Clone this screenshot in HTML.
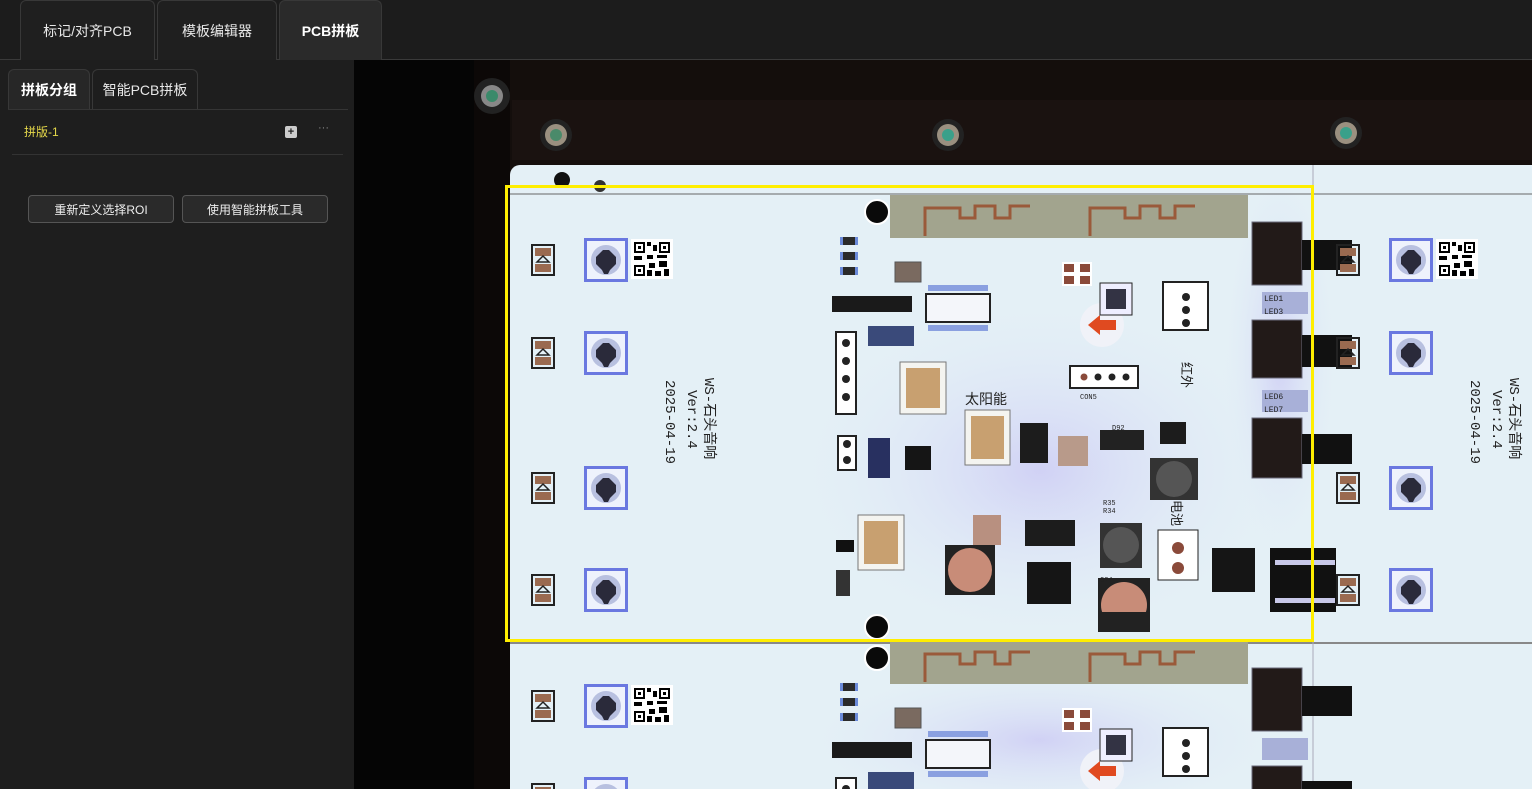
<!DOCTYPE html>
<html style="overflow:hidden"><head><meta charset="utf-8"><style>
*{margin:0;padding:0;box-sizing:border-box}
html,body{width:1532px;height:789px;overflow:hidden}
body{background:#1c1c1c;font-family:"Liberation Sans","Noto Sans CJK SC",sans-serif;position:relative}
.tab{position:absolute;top:0;height:60px;border:1px solid #383838;border-bottom:none;border-radius:6px 6px 0 0;color:#e8e8e8;font-size:14px;display:flex;align-items:center;justify-content:center;background:#1f1f1f}
.st{position:absolute;top:69px;height:41px;border:1px solid #383838;border-bottom:none;border-radius:6px 6px 0 0;color:#e8e8e8;font-size:14px;display:flex;align-items:center;justify-content:center}
.btn{position:absolute;top:195px;height:28px;border:1px solid #555;border-radius:4px;background:#2a2a2a;color:#eee;font-size:12px;display:flex;align-items:center;justify-content:center}
</style></head><body>
<div style="position:absolute;left:0;top:59px;width:1532px;height:1px;background:#3a3a3a"></div>
<div class="tab" style="left:20px;width:135px">标记/对齐PCB</div>
<div class="tab" style="left:157px;width:120px">模板编辑器</div>
<div class="tab" style="left:279px;width:103px;background:#2a2a2a;font-weight:bold;color:#fff">PCB拼板</div>
<div style="position:absolute;left:0;top:60px;width:354px;height:729px;background:#1e1e1e"></div>
<div class="st" style="left:8px;width:82px;background:#272727;font-weight:bold;color:#fff">拼板分组</div>
<div class="st" style="left:92px;width:106px">智能PCB拼板</div>
<div style="position:absolute;left:8px;top:109px;width:340px;height:1px;background:#353535"></div>
<div style="position:absolute;left:24px;top:123px;color:#e5d84a;font-size:12px">拼版-1</div>
<div style="position:absolute;left:285px;top:126px;width:12px;height:12px;background:#ccc;border-radius:2px;color:#222;font-size:11px;line-height:12px;text-align:center;font-weight:bold">+</div>
<div style="position:absolute;left:318px;top:122px;color:#888;font-size:11px">···</div>
<div style="position:absolute;left:12px;top:154px;width:331px;height:1px;background:#333"></div>
<div class="btn" style="left:28px;width:146px">重新定义选择ROI</div>
<div class="btn" style="left:182px;width:146px">使用智能拼板工具</div>
<div style="position:absolute;left:354px;top:60px;width:120px;height:729px;background:#050505"></div>
<svg style="position:absolute;left:0;top:0;display:block" width="1532" height="789" viewBox="0 0 1532 789">
<defs>
<radialGradient id="glow" cx="0.5" cy="0.5" r="0.5"><stop offset="0" stop-color="#c8c4f4" stop-opacity="0.7"/><stop offset="1" stop-color="#e4f0f8" stop-opacity="0"/></radialGradient>
<g id="led"><rect x="-22" y="-22" width="44" height="44" fill="#6a78e0"/><rect x="-19" y="-19" width="38" height="38" fill="#eef2fc"/><circle r="15" fill="#b8c0e0"/><path d="M-10 -3 L-3 -10 L3 -10 L10 -3 L10 4 L4 10 L2 14 L-2 14 L-4 10 L-10 4Z" fill="#2a2a3a"/></g>
<g id="ledl"><rect x="-11" y="-15" width="22" height="30" fill="none" stroke="#222" stroke-width="2"/><rect x="-8" y="-12" width="16" height="8" fill="#9a6a50"/><rect x="-8" y="4" width="16" height="8" fill="#9a6a50"/><path d="M-6 2 L0 -4 L6 2Z" fill="none" stroke="#222" stroke-width="1.5"/></g>
<g id="qr"><rect width="42" height="40" fill="#fff"/><rect x="3" y="3" width="11" height="11" fill="#000"/><rect x="5" y="5" width="7" height="7" fill="#fff"/><rect x="7" y="7" width="3" height="3" fill="#000"/><rect x="28" y="3" width="11" height="11" fill="#000"/><rect x="30" y="5" width="7" height="7" fill="#fff"/><rect x="32" y="7" width="3" height="3" fill="#000"/><rect x="3" y="26" width="11" height="11" fill="#000"/><rect x="5" y="28" width="7" height="7" fill="#fff"/><rect x="7" y="30" width="3" height="3" fill="#000"/><path d="M16 3h4v4h-4zM22 6h4v6h-4zM16 16h6v4h-6zM26 16h10v3h-10zM3 17h8v4h-8zM18 24h6v5h-6zM28 22h8v6h-8zM16 31h5v6h-5zM24 32h6v5h-6zM33 30h5v7h-5z" fill="#000"/></g>
<g id="res"><rect x="-8" y="-4" width="16" height="8" fill="#2a2a2a"/><rect x="-9" y="-4" width="3" height="8" fill="#6b8ad8"/><rect x="6" y="-4" width="3" height="8" fill="#6b8ad8"/></g>
<g id="panel">
<use href="#led" x="606" y="260"/><use href="#led" x="606" y="353"/><use href="#led" x="606" y="488"/><use href="#led" x="606" y="590"/>
<use href="#ledl" x="543" y="260"/><use href="#ledl" x="543" y="353"/><use href="#ledl" x="543" y="488"/><use href="#ledl" x="543" y="590"/>
<use href="#qr" x="631" y="239"/>
<rect x="890" y="195" width="358" height="43" fill="#a2a48e"/>
<path d="M925 236 V208 H960 V218 H975 V206 H995 V218 H1010 V206 H1030 M1090 236 V208 H1125 V218 H1140 V206 H1160 V218 H1175 V206 H1195" fill="none" stroke="#9a5a3a" stroke-width="3"/>
<circle cx="877" cy="212" r="12" fill="#0a0a0a" stroke="#fff" stroke-width="2"/>
<circle cx="877" cy="627" r="12" fill="#0a0a0a" stroke="#fff" stroke-width="2"/>
<g fill="#333"><use href="#res" x="849" y="241"/><use href="#res" x="849" y="256"/><use href="#res" x="849" y="271"/></g>
<rect x="832" y="296" width="80" height="16" fill="#1a1a1a"/>
<rect x="868" y="326" width="46" height="20" fill="#3a4a7a"/>
<rect x="895" y="262" width="26" height="20" fill="#7a6a60" stroke="#555"/>
<rect x="926" y="294" width="64" height="28" fill="#f4f6fa" stroke="#222" stroke-width="2"/>
<rect x="928" y="285" width="60" height="6" fill="#8aa0e0"/><rect x="928" y="325" width="60" height="6" fill="#8aa0e0"/>
<rect x="836" y="332" width="20" height="82" fill="#fff" stroke="#222" stroke-width="2"/>
<circle cx="846" cy="343" r="4" fill="#222"/><circle cx="846" cy="361" r="4" fill="#222"/><circle cx="846" cy="379" r="4" fill="#222"/><circle cx="846" cy="397" r="4" fill="#222"/>
<rect x="838" y="436" width="18" height="34" fill="#fff" stroke="#222" stroke-width="2"/><circle cx="847" cy="444" r="4" fill="#222"/><circle cx="847" cy="460" r="4" fill="#222"/>
<rect x="900" y="362" width="46" height="52" fill="#f4f4f0" stroke="#777"/><rect x="906" y="368" width="34" height="40" fill="#c8a070"/>
<rect x="965" y="410" width="45" height="55" fill="#f4f4f0" stroke="#777"/><rect x="971" y="416" width="33" height="43" fill="#c8a070"/>
<rect x="858" y="515" width="46" height="55" fill="#f4f4f0" stroke="#777"/><rect x="864" y="521" width="34" height="43" fill="#c8a070"/>
<rect x="1163" y="282" width="45" height="48" fill="#fff" stroke="#222" stroke-width="2"/><circle cx="1186" cy="297" r="4" fill="#222"/><circle cx="1186" cy="310" r="4" fill="#222"/><circle cx="1186" cy="323" r="4" fill="#222"/>
<circle cx="1102" cy="325" r="22" fill="#f0f2f8"/><path d="M1088 325 L1100 315 V320 H1116 V330 H1100 V335Z" fill="#e04a20"/>
<rect x="1100" y="283" width="32" height="32" fill="#eef" stroke="#222"/><rect x="1106" y="289" width="20" height="20" fill="#334"/>
<rect x="1062" y="262" width="30" height="24" fill="#fff"/><rect x="1064" y="264" width="10" height="8" fill="#8a4a3a"/><rect x="1080" y="264" width="10" height="8" fill="#8a4a3a"/><rect x="1064" y="276" width="10" height="8" fill="#8a4a3a"/><rect x="1080" y="276" width="10" height="8" fill="#8a4a3a"/>
<rect x="1070" y="366" width="68" height="22" fill="#fff" stroke="#222" stroke-width="2"/><circle cx="1084" cy="377" r="3.5" fill="#8a4a3a"/><circle cx="1098" cy="377" r="3.5" fill="#222"/><circle cx="1112" cy="377" r="3.5" fill="#222"/><circle cx="1126" cy="377" r="3.5" fill="#222"/>
<rect x="1020" y="423" width="28" height="40" fill="#1c1c1c"/>
<rect x="1100" y="430" width="44" height="20" fill="#222"/>
<rect x="1160" y="422" width="26" height="22" fill="#1c1c1c"/>
<rect x="1150" y="458" width="48" height="42" fill="#333"/><circle cx="1174" cy="479" r="18" fill="#555"/>
<rect x="1100" y="523" width="42" height="45" fill="#333"/><circle cx="1121" cy="545" r="18" fill="#555"/>
<rect x="1025" y="520" width="50" height="26" fill="#1c1c1c"/>
<rect x="1027" y="562" width="44" height="42" fill="#151515"/>
<rect x="1212" y="548" width="43" height="44" fill="#151515"/>
<rect x="945" y="545" width="50" height="50" fill="#222"/><circle cx="970" cy="570" r="22" fill="#c88c78"/>
<rect x="1098" y="578" width="52" height="54" fill="#222"/><circle cx="1124" cy="605" r="23" fill="#c88c78"/><rect x="1100" y="612" width="48" height="18" fill="#222"/>
<rect x="1158" y="530" width="40" height="50" fill="#fff" stroke="#222"/><circle cx="1178" cy="548" r="6" fill="#8a4a3a"/><circle cx="1178" cy="568" r="6" fill="#8a4a3a"/>
<rect x="973" y="515" width="28" height="30" fill="#b89080"/>
<rect x="1058" y="436" width="30" height="30" fill="#b89a8a"/>
<rect x="836" y="540" width="18" height="12" fill="#111"/><rect x="836" y="570" width="14" height="26" fill="#333"/>
<rect x="868" y="438" width="22" height="40" fill="#283060"/>
<rect x="905" y="446" width="26" height="24" fill="#151515"/>
<rect x="1252" y="222" width="50" height="63" fill="#221a18" stroke="#6a6a7a"/><rect x="1252" y="320" width="50" height="58" fill="#221a18" stroke="#6a6a7a"/><rect x="1252" y="418" width="50" height="60" fill="#221a18" stroke="#6a6a7a"/>
<rect x="1302" y="240" width="50" height="30" fill="#111"/><rect x="1302" y="335" width="50" height="32" fill="#111"/><rect x="1302" y="434" width="50" height="30" fill="#111"/>
<rect x="1270" y="548" width="66" height="64" fill="#111"/><rect x="1275" y="560" width="60" height="5" fill="#c8c8e8"/><rect x="1275" y="598" width="60" height="5" fill="#c8c8e8"/>
<rect x="1262" y="292" width="46" height="22" fill="#a8b0d8"/><rect x="1262" y="390" width="46" height="22" fill="#a8b0d8"/>
</g>
<clipPath id="rp"><rect x="1316" y="165" width="216" height="624"/></clipPath>
<clipPath id="brd"><rect x="510" y="165" width="1040" height="640" rx="10"/></clipPath>
</defs>
<rect x="474" y="60" width="1058" height="729" fill="#140e0c"/>
<rect x="474" y="60" width="36" height="729" fill="#0c0807"/>
<rect x="512" y="100" width="1020" height="60" fill="#1a1210"/>
<circle cx="492" cy="96" r="18" fill="#222"/><circle cx="492" cy="96" r="11" fill="#888"/><circle cx="492" cy="96" r="6" fill="#3a8a6a"/>
<circle cx="556" cy="135" r="16" fill="#222"/><circle cx="556" cy="135" r="11" fill="#9a9080"/><circle cx="556" cy="135" r="6" fill="#4a8a6a"/>
<circle cx="948" cy="135" r="16" fill="#222"/><circle cx="948" cy="135" r="11" fill="#9a9080"/><circle cx="948" cy="135" r="6" fill="#3aa08a"/>
<circle cx="1346" cy="133" r="16" fill="#222"/><circle cx="1346" cy="133" r="11" fill="#9a9080"/><circle cx="1346" cy="133" r="6" fill="#3aa08a"/>
<g clip-path="url(#brd)">
<rect x="510" y="165" width="1022" height="624" fill="#e4f0f6"/>
<ellipse cx="1040" cy="470" rx="260" ry="180" fill="url(#glow)"/>
<ellipse cx="1280" cy="360" rx="60" ry="200" fill="url(#glow)"/>
<ellipse cx="1040" cy="740" rx="250" ry="80" fill="url(#glow)"/>
<line x1="510" y1="194" x2="1532" y2="194" stroke="#666" stroke-width="1"/>
<line x1="510" y1="643" x2="1532" y2="643" stroke="#888" stroke-width="2"/>
<line x1="1313" y1="165" x2="1313" y2="789" stroke="#aab" stroke-width="1"/>
<use href="#panel"/>
<use href="#panel" y="446"/>
<g clip-path="url(#rp)"><use href="#panel" x="805"/></g>
<circle cx="877" cy="658" r="12" fill="#0a0a0a" stroke="#fff" stroke-width="2"/>
<circle cx="562" cy="180" r="8" fill="#111"/><circle cx="600" cy="186" r="6" fill="#333"/>
</g>
<g font-family="Liberation Mono,Noto Sans CJK SC,monospace" fill="#222">
<text transform="translate(705,378) rotate(90)" font-size="14">WS-石头音响</text>
<text transform="translate(688,390) rotate(90)" font-size="14">Ver:2.4</text>
<text transform="translate(666,380) rotate(90)" font-size="14">2025-04-19</text>
<text transform="translate(1510,378) rotate(90)" font-size="14">WS-石头音响</text>
<text transform="translate(1493,390) rotate(90)" font-size="14">Ver:2.4</text>
<text transform="translate(1471,380) rotate(90)" font-size="14">2025-04-19</text>
<text x="965" y="404" font-size="14" font-family="Noto Sans CJK SC,sans-serif">太阳能</text>
<text transform="translate(1182,362) rotate(90)" font-size="13" font-family="Noto Sans CJK SC,sans-serif">红外</text>
<text transform="translate(1172,500) rotate(90)" font-size="13" font-family="Noto Sans CJK SC,sans-serif">电池</text>
<text x="1264" y="301" font-size="8">LED1</text><text x="1264" y="314" font-size="8">LED3</text>
<text x="1264" y="399" font-size="8">LED6</text><text x="1264" y="412" font-size="8">LED7</text>
<text x="1080" y="399" font-size="7">CON5</text><text x="1112" y="430" font-size="7">D92</text>
<text x="1103" y="505" font-size="7">R35</text><text x="1103" y="513" font-size="7">R34</text>
<text x="1100" y="582" font-size="7">C24</text>
</g>
<rect x="506.5" y="186.5" width="806" height="454" fill="none" stroke="#ffee00" stroke-width="3"/>
</svg>
</body></html>
